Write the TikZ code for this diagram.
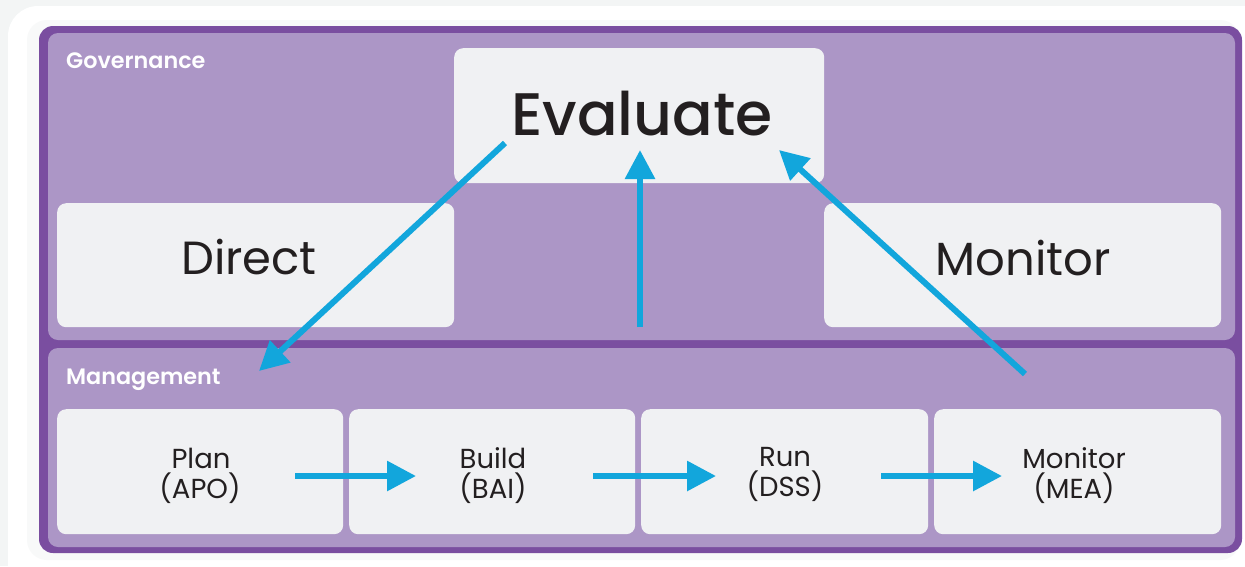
\documentclass[tikz,border=0pt]{standalone}
\usepackage{fontspec}
\setmainfont{Poppins}
\newfontfamily\labelfont{Poppins}[UprightFont=* SemiBold]
\newfontfamily\titlefont{Poppins}[UprightFont=* Medium]
\usetikzlibrary{arrows.meta}
\definecolor{pagegray}{HTML}{F3F5F5}
\definecolor{frame}{HTML}{7A4EA0}
\definecolor{panelfill}{HTML}{AC96C6}
\definecolor{boxfill}{HTML}{F0F1F3}
\definecolor{flowblue}{HTML}{12A6DC}
\definecolor{ink}{HTML}{231F20}
\tikzset{
  panel/.style={fill=panelfill, rounded corners=10pt},
  card/.style={fill=boxfill, rounded corners=9pt, inner sep=0pt, anchor=north west},
  word/.style={anchor=base, inner sep=0pt, text=ink},
  bigword/.style={word, font=\fontsize{46.5}{50}\selectfont},
  smallword/.style={word, font=\fontsize{27.5}{30}\selectfont},
  tag/.style={anchor=base west, inner sep=0pt, text=white,
              font=\labelfont\fontsize{22.3}{24}\selectfont},
  flow/.style={draw=flowblue, line width=6pt, -{Triangle[length=29pt,width=29pt]}},
}
\begin{document}
\begin{tikzpicture}[x=1pt, y=-1pt]
  \useasboundingbox (0,0) rectangle (1245,566);
  % page and surrounding card
  \fill[pagegray] (0,0) rectangle (1245,566);
  \begin{scope}
    \clip (0,0) rectangle (1245,566);
    \fill[white, rounded corners=30pt] (8,6) rectangle (1275,600);
    \fill[pagegray!60!white, rounded corners=20pt] (27,20) rectangle (1240,560);
  \end{scope}

  % outer frame and the two layers
  \fill[frame, rounded corners=14pt] (39,26) rectangle (1242,553);
  \fill[panel] (48,33) rectangle (1235,340);
  \fill[panel] (48,348) rectangle (1235,547);

  \node[tag] (gov) at (66,68) {Governance};
  \node[tag] (mgmt) at (66,384) {Management};

  % governance cards
  \node[card, minimum width=370pt, minimum height=135pt] (eval) at (454,48) {};
  \node[card, minimum width=397pt, minimum height=124pt] (direct) at (57,203) {};
  \node[card, minimum width=397pt, minimum height=124pt] (monitor) at (824,203) {};
  \node[word, font=\titlefont\fontsize{60}{64}\selectfont] (evalt) at (642,135) {Evaluate};
  \node[bigword] (directt) at (249,274.5) {Direct};
  \node[bigword] (monitort) at (1023,275.5) {Monitor};

  % management cards
  \node[card, minimum width=286pt, minimum height=125pt] (plan) at (57,409) {};
  \node[card, minimum width=286pt, minimum height=125pt] (build) at (349,409) {};
  \node[card, minimum width=287pt, minimum height=125pt] (run) at (641,409) {};
  \node[card, minimum width=287pt, minimum height=125pt] (mea) at (934,409) {};
  \node[smallword] (plana) at (201,468) {Plan};
  \node[smallword] (planb) at (200,498) {(APO)};
  \node[smallword] (builda) at (493,468) {Build};
  \node[smallword] (buildb) at (493,498) {(BAI)};
  \node[smallword] (runa) at (785,466) {Run};
  \node[smallword] (runb) at (785,496) {(DSS)};
  \node[smallword] (meaa) at (1074,468) {Monitor};
  \node[smallword] (meab) at (1074,498) {(MEA)};

  % connector end points
  \coordinate (d0) at (505,143);
  \coordinate (d1) at (259,371);
  \coordinate (u0) at (640,327);
  \coordinate (u1) at (640,150);
  \coordinate (m0) at (1025,374);
  \coordinate (m1) at (779,150);
  \coordinate (p0) at (295,476);
  \coordinate (p1) at (416,476);
  \coordinate (b0) at (593,476);
  \coordinate (b1) at (716,476);
  \coordinate (r0) at (881,476);
  \coordinate (r1) at (1002,476);

  \draw[flow] (d0) -- (d1);
  \draw[flow] (u0) -- (u1);
  \draw[flow] (m0) -- (m1);
  \draw[flow] (p0) -- (p1);
  \draw[flow] (b0) -- (b1);
  \draw[flow] (r0) -- (r1);
\end{tikzpicture}
\end{document}
